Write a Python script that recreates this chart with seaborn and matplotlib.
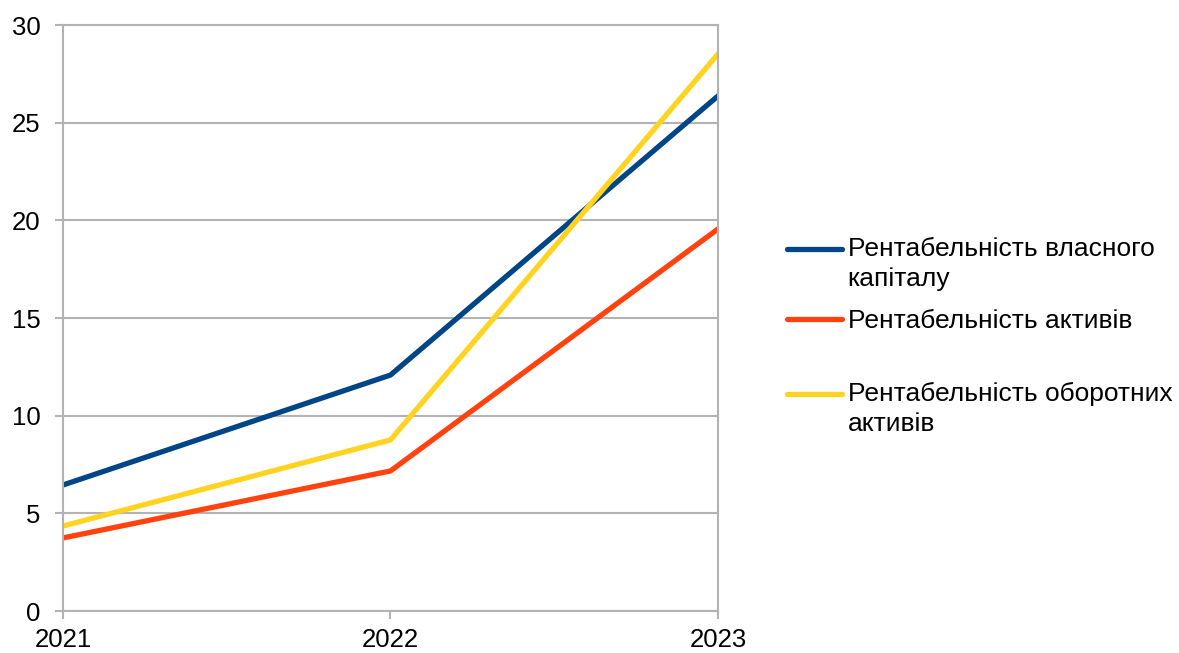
import pandas as pd
import matplotlib
matplotlib.use("Agg")
import matplotlib.pyplot as plt
import seaborn as sns

# chart values
years = [2021, 2022, 2023]
roe = [6.45, 12.08, 26.37]          # рентабельність власного капіталу
roa = [3.74, 7.17, 19.56]           # рентабельність активів
roca = [4.35, 8.76, 28.52]          # рентабельність оборотних активів
series_names = [
    "\nРентабельність власного\nкапіталу",
    "Рентабельність активів",
    "\nРентабельність оборотних\nактивів",
]
colors = ["#004586", "#FF420E", "#FFD320"]
y_ticks = [0, 5, 10, 15, 20, 25, 30]

df = pd.DataFrame({
    "year": years * 3,
    "value": roe + roa + roca,
    "series": [series_names[0]] * 3 + [series_names[1]] * 3 + [series_names[2]] * 3,
})

sns.set_style("white")
plt.rcParams["font.family"] = ["Liberation Sans", "DejaVu Sans"]

fig = plt.figure(figsize=(11.79, 6.53), dpi=100)
ax = fig.add_axes([0.0534, 0.0643, 0.5556, 0.8974])

grey = "#b3b3b3"
sns.lineplot(data=df, x="year", y="value", hue="series", hue_order=series_names,
             palette=colors, linewidth=3.8, ax=ax, legend=True)

ax.set_xlim(2021, 2023)
ax.set_ylim(0, 30)
ax.set_xticks(years)
ax.set_xticklabels([str(y) for y in years])
ax.set_yticks(y_ticks)
ax.set_xlabel("")
ax.set_ylabel("")
ax.yaxis.grid(True, color=grey, linewidth=1.5)
ax.xaxis.grid(False)
ax.set_axisbelow(True)
for side in ["left", "bottom", "right", "top"]:
    ax.spines[side].set_visible(True)
    ax.spines[side].set_color(grey)
    ax.spines[side].set_linewidth(1.5)
ax.tick_params(axis="both", colors=grey, labelcolor="black", length=6, width=1.5,
               labelsize=18.5, direction="out")
ax.tick_params(axis="y", pad=10)
ax.tick_params(axis="x", pad=6)
ax.tick_params(left=True, bottom=True)

handles, labels = ax.get_legend_handles_labels()
ax.get_legend().remove()
leg = fig.legend(handles, labels, loc="center left", bbox_to_anchor=(0.6474, 0.508),
                 frameon=False, fontsize=19, handlelength=2.1, handletextpad=0.2,
                 labelspacing=0.68, labelcolor="black")
for line in leg.get_lines():
    line.set_linewidth(3.8)
for t in leg.get_texts():
    t.set_linespacing(1.33)

fig.savefig("out.png", dpi=100)
